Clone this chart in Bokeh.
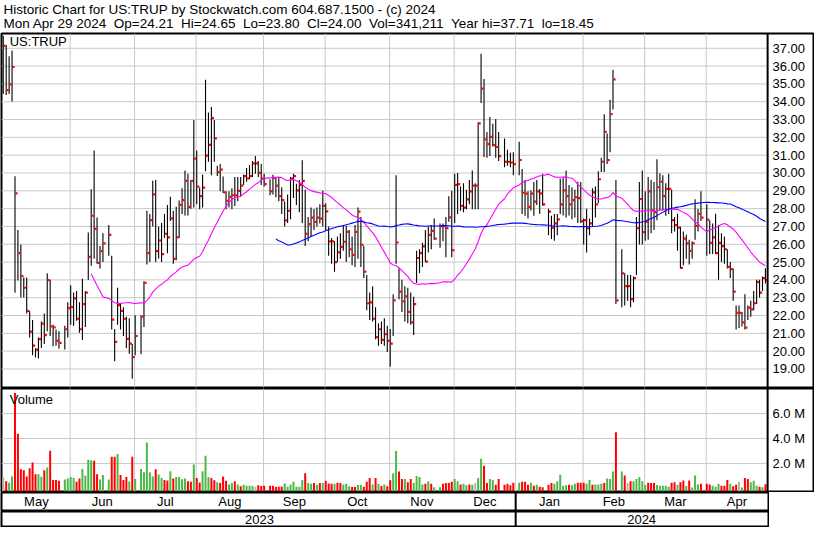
import numpy as np
import pandas as pd
from bokeh.plotting import figure
from bokeh.layouts import column
from bokeh.models import Range1d, Span
from bokeh.core.properties import value
from bokeh.embed import file_html
from bokeh.resources import INLINE

# ---------------- data ----------------
symbol = "US:TRUP"
start_date, end_date = "2023-05-01", "2024-04-29"
holidays = ["2023-05-29", "2023-06-19", "2023-07-04", "2023-09-04", "2023-11-23",
            "2023-12-25", "2024-01-01", "2024-01-15", "2024-02-19", "2024-03-29"]

high = [
    37.71, 37.18, 36.55, 36.87, 29.82, 26.80, 25.99, 24.13, 24.13, 22.26, 21.75, 20.16, 20.76, 21.66, 22.11, 24.37, 24.01, 21.48, 21.21, 21.12, 21.43, 22.74,
    23.70, 23.29, 23.38, 22.74, 24.06, 23.38, 26.66, 29.09, 31.26, 27.50, 25.90, 26.62, 27.08, 25.36, 21.25, 23.56, 22.65, 22.47, 21.93, 21.84, 20.40,
    22.02, 22.02, 23.92, 27.88, 27.70, 29.56, 29.60, 27.00, 27.20, 27.70, 28.20, 28.66, 27.88, 28.10, 28.46, 29.15, 30.14, 29.96, 29.60, 32.97,
    31.26, 29.18, 29.92, 35.23, 33.39, 33.71, 32.97, 30.41, 30.50, 29.81, 28.97, 28.97, 29.15, 29.78, 29.78, 29.78, 29.92, 30.28, 30.45, 30.68, 30.95, 30.68, 30.50,
    29.96, 29.65, 29.90, 29.78, 29.78, 29.20, 28.40, 28.80, 29.78, 29.96, 29.40, 29.60, 30.72, 29.06, 27.53, 28.07, 27.98, 28.07, 28.25, 29.00,
    28.30, 26.99, 26.35, 26.17, 26.44, 26.62, 27.08, 27.04, 26.80, 26.44, 27.08, 28.07, 27.53, 25.90, 24.28, 23.29, 23.65, 22.47, 21.57, 21.66, 21.84, 21.43,
    21.25, 23.20, 29.87, 24.64, 24.01, 23.65, 23.56, 23.29, 23.05, 25.63, 25.72, 26.08, 26.80, 26.98, 27.08, 27.44, 27.17, 27.17, 27.53, 28.70, 29.00,
    29.96, 30.00, 29.24, 29.42, 29.06, 29.60, 30.14, 29.42, 32.85, 36.69, 35.28, 32.30, 33.15, 32.76, 33.03, 32.30, 31.94, 31.31, 31.13, 31.17,
    31.76, 30.23, 29.60, 28.97, 29.02, 29.50, 29.60, 29.10, 29.96, 28.00, 27.60, 27.70, 27.70, 29.69, 29.72, 30.14, 29.33, 29.20, 29.06, 29.51, 29.50,
    27.44, 28.00, 27.44, 29.15, 29.24, 30.10, 30.86, 33.30, 32.21, 34.11, 35.79, 29.60, 25.72, 24.37, 24.28, 24.28, 24.19, 27.53, 29.50, 30.14,
    28.97, 29.78, 29.60, 29.50, 30.77, 29.99, 29.87, 29.42, 29.96, 29.06, 27.53, 27.71, 26.98, 26.71, 26.53, 26.26, 26.17, 28.52, 27.98, 28.97,
    28.25, 27.35, 27.17, 27.71, 27.08, 26.62, 26.44, 25.72, 25.00, 24.64, 22.56, 22.56, 22.20, 23.20, 22.56, 22.83, 23.38, 24.01, 24.01, 24.19, 24.65,
]
low = [
    34.43, 34.38, 34.43, 34.02, 23.28, 23.97, 23.01, 23.01, 22.11, 20.76, 19.77, 19.64, 19.59, 20.18, 20.40, 21.12, 20.85, 20.27, 20.31, 20.13, 20.09, 20.76,
    21.48, 21.43, 21.70, 21.03, 20.63, 21.35, 24.00, 24.80, 25.18, 24.91, 24.64, 25.00, 25.36, 21.21, 19.44, 21.48, 21.21, 20.85, 20.16, 19.86, 18.45,
    19.77, 19.82, 21.35, 24.86, 25.00, 27.00, 25.00, 25.20, 25.00, 26.35, 25.50, 27.30, 24.90, 25.10, 26.35, 27.70, 27.61, 27.61, 28.00, 28.06,
    28.24, 27.97, 28.06, 30.10, 30.63, 29.87, 30.63, 29.83, 28.97, 28.88, 27.97, 28.06, 27.97, 28.15, 28.42, 28.69, 29.33, 29.51, 29.65, 29.78, 29.96, 29.78, 29.33,
    29.24, 28.75, 28.79, 28.64, 28.42, 27.70, 27.00, 27.20, 27.40, 28.60, 28.20, 27.80, 27.20, 25.90, 26.17, 26.44, 26.80, 26.99, 27.17, 26.99,
    26.80, 25.36, 24.91, 24.46, 25.00, 25.18, 25.63, 25.00, 25.27, 24.82, 24.73, 25.18, 24.73, 24.10, 22.29, 21.75, 21.66, 20.67, 20.31, 20.40, 20.31, 19.95,
    19.13, 20.85, 24.91, 22.92, 22.20, 21.66, 21.57, 21.48, 20.90, 23.83, 24.37, 24.73, 25.00, 25.54, 25.72, 26.26, 25.81, 26.17, 25.27, 27.26, 25.27,
    27.20, 27.70, 27.88, 27.79, 27.97, 28.24, 27.97, 27.97, 27.97, 33.93, 30.90, 30.86, 30.95, 31.49, 30.86, 30.68, 30.32, 30.41, 30.32, 29.87,
    29.87, 27.70, 27.60, 27.44, 27.90, 27.60, 28.20, 27.70, 28.16, 26.50, 26.30, 26.20, 26.50, 27.70, 27.61, 27.50, 27.61, 27.40, 27.50, 27.20, 27.20,
    25.99, 25.54, 26.50, 27.00, 27.50, 28.30, 30.05, 30.05, 30.50, 31.17, 33.57, 22.65, 22.47, 22.56, 22.83, 22.47, 22.74, 24.28, 25.99, 25.99,
    26.20, 26.26, 26.62, 26.80, 27.35, 27.89, 27.90, 27.60, 27.70, 26.62, 26.71, 25.63, 24.64, 24.82, 25.18, 24.86, 25.18, 26.26, 26.71, 27.30,
    25.36, 25.45, 25.45, 25.45, 24.01, 25.00, 24.91, 24.64, 24.10, 22.83, 21.21, 21.30, 21.39, 21.21, 21.75, 21.93, 22.29, 22.65, 23.01, 23.38, 23.80,
]
close = [
    37.14, 34.65, 34.97, 35.95, 28.86, 25.50, 24.21, 23.56, 22.26, 21.10, 20.31, 20.09, 20.67, 21.54, 20.90, 23.99, 21.39, 21.34, 20.58, 20.47, 21.23, 22.42,
    22.47, 22.96, 21.82, 21.23, 22.64, 23.29, 25.29, 27.60, 26.86, 24.96, 25.61, 26.05, 26.53, 21.77, 20.52, 22.58, 22.26, 21.82, 20.69, 20.42, 19.66,
    20.85, 21.93, 23.83, 25.50, 27.35, 28.80, 25.61, 26.21, 25.45, 26.59, 26.39, 27.45, 25.18, 26.39, 28.21, 28.48, 29.56, 28.10, 29.56, 30.81,
    29.24, 28.70, 29.18, 30.97, 31.58, 33.08, 31.94, 30.05, 30.19, 28.91, 28.43, 28.66, 28.75, 28.75, 29.00, 29.29, 29.83, 29.69, 29.83, 30.54, 30.54, 30.01, 29.69,
    29.38, 28.97, 29.72, 29.29, 28.70, 28.48, 27.34, 27.88, 29.69, 29.83, 29.02, 29.33, 29.56, 26.59, 27.13, 27.49, 27.26, 27.49, 27.44, 28.16,
    27.85, 26.16, 26.16, 25.00, 25.54, 25.85, 26.14, 26.70, 25.72, 25.40, 26.70, 27.83, 25.97, 24.46, 22.69, 22.74, 21.82, 20.79, 21.23, 20.63, 20.96, 20.58,
    20.42, 22.85, 26.10, 23.34, 22.80, 23.07, 22.20, 21.61, 22.64, 25.23, 25.50, 25.88, 25.02, 26.53, 26.75, 26.32, 27.02, 27.02, 26.91, 27.51, 25.67,
    29.33, 29.38, 28.15, 28.06, 28.52, 28.97, 29.29, 29.29, 32.79, 34.74, 31.89, 31.62, 32.03, 31.56, 31.46, 30.95, 30.63, 30.63, 30.59, 30.50,
    30.73, 28.89, 28.84, 28.10, 28.84, 28.39, 28.97, 28.86, 28.24, 27.83, 26.93, 27.17, 27.40, 28.24, 29.02, 28.70, 28.24, 28.48, 28.64, 28.59, 27.30,
    27.35, 26.90, 27.17, 28.91, 28.24, 29.65, 30.63, 32.31, 30.72, 33.30, 35.25, 22.85, 24.37, 23.65, 23.65, 22.92, 24.10, 26.90, 28.54, 26.68,
    27.26, 28.97, 27.90, 27.80, 29.20, 29.51, 28.70, 29.11, 29.11, 27.35, 27.08, 26.93, 24.68, 26.32, 26.05, 25.63, 26.05, 27.04, 27.71, 27.49,
    27.38, 26.08, 26.39, 25.50, 26.08, 25.90, 25.72, 24.73, 24.60, 23.34, 22.15, 22.15, 21.61, 21.32, 22.44, 22.35, 22.69, 23.88, 23.29, 24.10, 24.00,
]
# volume in millions of shares
volume = [
    0.90, 0.59, 0.46, 0.97, 7.64, 4.38, 1.54, 1.46, 0.97, 1.62, 2.08, 1.15, 1.15, 0.95, 1.46, 1.69, 3.03, 0.69, 0.69, 0.62, 0.72, 0.80,
    0.92, 0.85, 0.54, 0.80, 1.56, 1.03, 2.31, 2.26, 2.23, 1.15, 0.72, 1.08, 0.72, 2.54, 2.54, 2.77, 1.08, 0.69, 0.92, 0.56, 2.54,
    0.77, 1.56, 1.31, 3.69, 1.31, 0.97, 1.54, 1.13, 0.85, 0.69, 0.64, 1.38, 0.80, 0.92, 0.92, 0.74, 0.80, 0.59, 0.54, 1.92,
    0.85, 0.49, 1.38, 2.62, 0.92, 0.85, 0.67, 0.51, 0.44, 0.97, 0.62, 0.33, 0.44, 0.59, 0.33, 0.18, 0.31, 0.23, 0.23, 0.23, 0.15, 0.26, 0.21,
    0.23, 0.23, 0.23, 0.15, 0.15, 0.15, 0.41, 0.15, 0.33, 0.54, 0.15, 0.15, 0.69, 1.23, 0.44, 0.38, 0.44, 0.31, 0.44, 0.44,
    0.62, 0.40, 0.38, 0.38, 0.46, 0.44, 0.33, 0.38, 0.18, 0.12, 0.12, 0.28, 0.28, 0.15, 0.54, 0.85, 0.33, 0.85, 0.38, 0.21, 0.33, 0.18,
    0.67, 1.23, 3.00, 1.36, 0.77, 0.77, 0.51, 0.77, 0.44, 1.00, 0.92, 0.33, 0.38, 0.59, 0.38, 0.10, 0.10, 0.38, 0.44, 0.44, 0.54,
    0.77, 0.59, 0.33, 0.38, 0.26, 0.33, 0.30, 0.44, 0.85, 2.38, 1.82, 0.44, 0.77, 0.69, 0.31, 0.77, 0.31, 0.38, 0.26, 0.46,
    0.46, 0.54, 0.54, 0.31, 0.46, 0.23, 0.31, 0.15, 0.10, 0.31, 0.44, 0.38, 0.59, 1.10, 0.23, 0.26, 0.31, 0.26, 0.38, 0.46, 0.46,
    0.46, 0.38, 0.69, 0.31, 0.33, 0.33, 0.38, 0.44, 0.80, 0.77, 1.36, 4.51, 1.36, 1.05, 0.44, 0.59, 0.59, 0.77, 0.92, 0.59,
    0.28, 0.46, 0.44, 0.44, 0.28, 0.23, 0.23, 0.23, 0.15, 0.46, 0.51, 0.31, 0.51, 0.64, 0.21, 0.64, 0.08, 1.05, 0.33, 0.38,
    0.38, 0.33, 0.23, 0.15, 0.38, 0.23, 0.23, 0.69, 0.38, 0.18, 0.31, 0.54, 0.08, 0.85, 0.77, 0.51, 0.62, 0.23, 0.15, 0.10, 0.34,
]
# g = up, r = down, n = unchanged
vol_dir = ("nrggrrrrrrrrggrgrrrrgg" "ggrrggggrrgggrrgrrrgr" "ggggggrggrrgrggggrrg"
           "rrgggrrgrrrggrgrggggnrr" "rrrrrrgggggggrggrgrg" "rrrgrrgggrrggrrrgrgrgr"
           "rggrrgrrggggrgrggrrrr" "ggrggrgnggrrggrrrrrr" "grrrgrgrrrrgggggrggrr"
           "rggrgggrgggrgrnrgggg" "grrrgggggrrgrrgrgggr" "rrgggrrrgrrngrrgggrgr")
last_open = 24.21
last_volume = 341211
price_levels = [19, 20, 21, 22, 23, 24, 25, 26, 27, 28, 29, 30, 31, 32, 33, 34, 35, 36, 37]
volume_levels = [2.0, 4.0, 6.0]
ma_short, ma_long = 30, 90

# ---------------- derived positions ----------------
days = pd.bdate_range(start_date, end_date)
slot = np.arange(len(days), dtype=float)
trade = ~days.isin(pd.to_datetime(holidays))
tx = slot[trade]
n = len(tx)
high, low, close, volume = [list(a[:n]) for a in (high, low, close, volume)]
closes = pd.Series(close)
ma1 = closes.rolling(ma_short).mean().to_numpy()
ma2 = closes.rolling(ma_long).mean().to_numpy()
m1, m2 = ~np.isnan(ma1), ~np.isnan(ma2)

months = pd.period_range(days[0].to_period("M"), days[-1].to_period("M"), freq="M")
bounds, names = [], []
for m in months:
    idx = int(np.argmax((days.year == m.year) & (days.month == m.month)))
    bounds.append(idx - 0.2)
    names.append(m.strftime("%b"))

# ---------------- layout constants ----------------
FONT = value("Liberation Sans")
FS = "13px"
GRID = "#c8c8c8"
W = 814
H_HEAD, H_PRICE, H_VOL, H_MON, H_YEAR = 32, 356, 104, 19, 16
X0, X1 = -0.6, 276.4
PXU = (W - 2) / (X1 - X0)
SEP = 260.75
XB_END = SEP + 0.3
W_BAND = int(round((XB_END - X0) * PXU)) + 2
LBL_X = 262.4
P_LO, P_HI = 17.96, 37.83
V_LO, V_HI = -0.23, 8.0

xr = Range1d(X0, X1)


def make_fig(width, height, x_range, y_range, top=1):
    p = figure(width=width, height=height, x_range=x_range, y_range=y_range,
               output_backend="svg", toolbar_location=None,
               x_axis_location=None, y_axis_location=None,
               min_border_left=1, min_border_right=1, min_border_top=top, min_border_bottom=1)
    p.outline_line_color = "black"
    p.outline_line_width = 2
    p.outline_line_alpha = 1
    p.grid.visible = False
    p.background_fill_color = "white"
    p.border_fill_color = "white"
    return p


# header
head = figure(width=W, height=H_HEAD, x_range=Range1d(0, W), y_range=Range1d(0, H_HEAD),
              output_backend="svg", toolbar_location=None,
              x_axis_location=None, y_axis_location=None, min_border=0)
head.outline_line_color = None
head.grid.visible = False
gap = " \u00a0"
title1 = f"Historic Chart for {symbol} by Stockwatch.com 604.687.1500 - (c) {days[-1].year}"
title2 = gap.join([
    days[-1].strftime("%a %b %d %Y"),
    f"Op={last_open:.2f}", f"Hi={high[-1]:.2f}", f"Lo={low[-1]:.2f}", f"Cl={close[-1]:.2f}",
    f"Vol={last_volume:,}", f"Year hi={max(high):.2f}", f"lo={min(low):.2f}",
])
head.text(x=[2, 2], y=[23.3, 9.3], text=[title1, title2], text_font=FONT, text_font_size="13.5px",
          text_baseline="middle", text_align="left", text_color="black")

# price panel
pp = make_fig(W, H_PRICE, xr, Range1d(P_LO, P_HI))
pp.segment(x0=X0, x1=SEP, y0=price_levels, y1=price_levels, line_color=GRID, line_width=1)
pp.segment(x0=bounds[1:], x1=bounds[1:], y0=P_LO, y1=P_HI, line_color=GRID, line_width=1)
pp.segment(x0=tx, x1=tx, y0=low, y1=high, line_color="black", line_width=1.1)
pp.rect(x=tx + 0.5, y=close, width=2.2, height=2.2, width_units="screen", height_units="screen",
        fill_color="red", line_color=None)
pp.line(x=tx[m1], y=ma1[m1], line_color="#ff00ff", line_width=1.1)
pp.line(x=tx[m2], y=ma2[m2], line_color="#0000ff", line_width=1.1)
pp.add_layout(Span(location=SEP, dimension="height", line_color="black", line_width=2))
pp.text(x=[LBL_X] * len(price_levels), y=price_levels, text=[f"{v:.2f}" for v in price_levels],
        text_font=FONT, text_font_size=FS, text_baseline="middle", text_align="left", text_color="black")
pp.text(x=[2.2], y=[37.36], text=[symbol], text_font=FONT, text_font_size=FS,
        text_baseline="middle", text_align="left", text_color="black")

# volume panel
colmap = {"g": "#4cb848", "r": "#ff0000", "n": "#b4b4b4"}
vcol = [colmap[c] for c in vol_dir[:n]]
pv = make_fig(W, H_VOL, xr, Range1d(V_LO, V_HI), top=0)
pv.segment(x0=X0, x1=SEP, y0=volume_levels, y1=volume_levels, line_color=GRID, line_width=1)
pv.segment(x0=bounds[1:], x1=bounds[1:], y0=V_LO, y1=V_HI, line_color=GRID, line_width=1)
pv.vbar(x=tx, top=volume, bottom=V_LO, width=0.68, fill_color=vcol, line_color=None)
pv.add_layout(Span(location=SEP, dimension="height", line_color="black", line_width=2))
pv.text(x=[LBL_X] * len(volume_levels), y=volume_levels, text=[f"{v:.1f} M" for v in volume_levels],
        text_font=FONT, text_font_size=FS, text_baseline="middle", text_align="left", text_color="black")
pv.text(x=[2.2], y=[7.1], text=["Volume"], text_font=FONT, text_font_size=FS,
        text_baseline="middle", text_align="left", text_color="black")

# month band
edges = bounds + [SEP]
mid = [(edges[k] + edges[k + 1]) / 2 for k in range(len(names))]
year_start = [b for b, m in zip(bounds, months) if m.month == 1]
pm = make_fig(W_BAND, H_MON, Range1d(X0, XB_END), Range1d(0, 1), top=0)
pm.text(x=mid, y=[0.5] * len(mid), text=names, text_font=FONT, text_font_size=FS,
        text_baseline="middle", text_align="center", text_color="black")
pm.segment(x0=year_start, x1=year_start, y0=0, y1=1, line_color="black", line_width=2)

# year band
yb = [X0 + 0.6] + year_start + [SEP]
ylabels = sorted(set(str(d.year) for d in days))
ymid = [(yb[k] + yb[k + 1]) / 2 for k in range(len(ylabels))]
py = make_fig(W_BAND, H_YEAR, Range1d(X0, XB_END), Range1d(0, 1), top=0)
py.text(x=ymid, y=[0.5] * len(ymid), text=ylabels, text_font=FONT, text_font_size=FS,
        text_baseline="middle", text_align="center", text_color="black")
py.segment(x0=year_start, x1=year_start, y0=0, y1=1, line_color="black", line_width=2)

layout = column(head, pp, pv, pm, py, spacing=0)
open("out.html", "w").write(file_html(layout, INLINE))
